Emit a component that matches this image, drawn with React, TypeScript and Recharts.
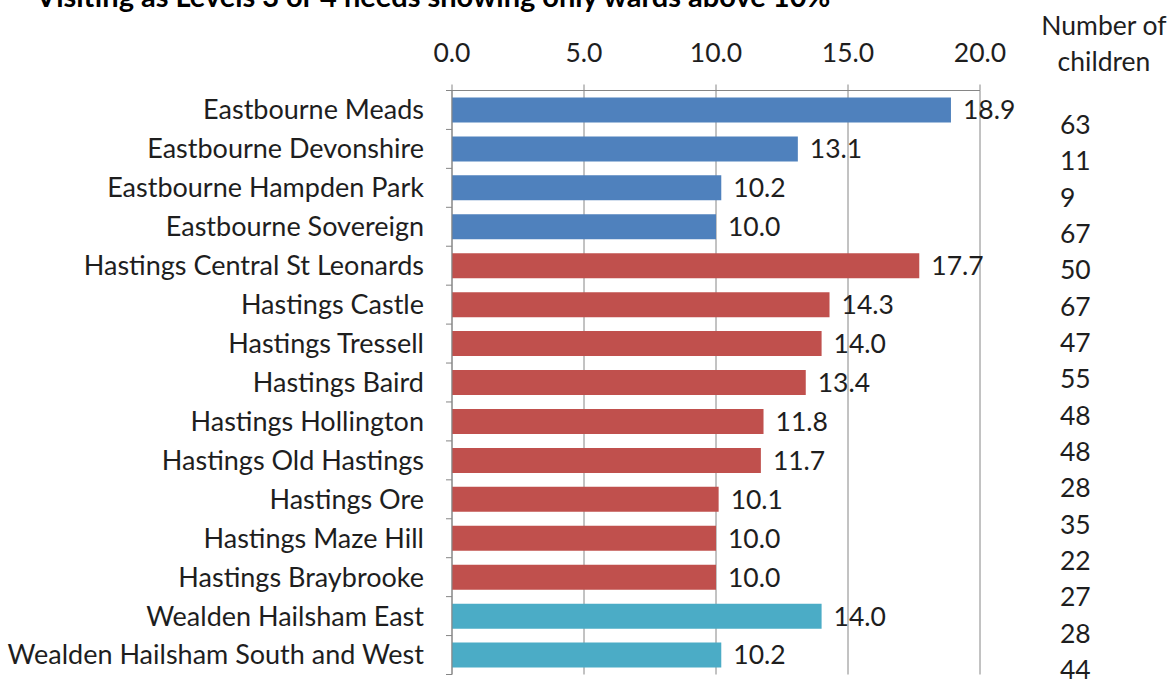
import { BarChart, Bar, XAxis, YAxis, CartesianGrid, Cell, LabelList } from "recharts";

// Wards visited at Level 3 or 4 (only wards above 10%)
const wards = [
  "Eastbourne Meads",
  "Eastbourne Devonshire",
  "Eastbourne Hampden Park",
  "Eastbourne Sovereign",
  "Hastings Central St Leonards",
  "Hastings Castle",
  "Hastings Tressell",
  "Hastings Baird",
  "Hastings Hollington",
  "Hastings Old Hastings",
  "Hastings Ore",
  "Hastings Maze Hill",
  "Hastings Braybrooke",
  "Wealden Hailsham East",
  "Wealden Hailsham South and West",
];
const percentages = [18.9, 13.1, 10.2, 10.0, 17.7, 14.3, 14.0, 13.4, 11.8, 11.7, 10.1, 10.0, 10.0, 14.0, 10.2];
const districts = [
  "Eastbourne", "Eastbourne", "Eastbourne", "Eastbourne",
  "Hastings", "Hastings", "Hastings", "Hastings", "Hastings", "Hastings", "Hastings", "Hastings", "Hastings",
  "Wealden", "Wealden",
];
const childCounts = [63, 11, 9, 67, 50, 67, 47, 55, 48, 48, 28, 35, 22, 27, 28, 44];
const xTicks = [0, 5, 10, 15, 20];

const districtColors: Record<string, string> = {
  Eastbourne: "#4F81BD",
  Hastings: "#C0504D",
  Wealden: "#4BACC6",
};

const FONT = "Lato, 'Open Sans', sans-serif";
const TEXT = "#1e1e1e";
const AXIS = "#868686";

const WIDTH = 1172;
const HEIGHT = 680;
const PLOT_TOP = 90.5;
const PLOT_BOTTOM = 674.5;
const BAND = (PLOT_BOTTOM - PLOT_TOP) / wards.length;

const data = wards.map((ward, i) => ({
  ward,
  pct: percentages[i],
  district: districts[i],
}));

// category label plus Excel-style tick marks at band edges
function WardTick(props: any) {
  const { x, y, payload, index } = props;
  return (
    <g>
      <text x={x - 28} y={y} dy="0.35em" textAnchor="end" fontFamily={FONT} fontSize={27} fill={TEXT}>
        {payload.value}
      </text>
      <line x1={x - 6} x2={x} y1={y - BAND / 2} y2={y - BAND / 2} stroke={AXIS} />
      {index === wards.length - 1 && (
        <line x1={x - 6} x2={x} y1={y + BAND / 2} y2={y + BAND / 2} stroke={AXIS} />
      )}
    </g>
  );
}

export default function App() {
  return (
    <div style={{ position: "absolute", left: 0, top: 0, width: WIDTH, height: HEIGHT, background: "#fff", overflow: "hidden" }}>
      <BarChart
        width={WIDTH}
        height={HEIGHT}
        data={data}
        layout="vertical"
        margin={{ top: PLOT_TOP - 40, right: 192, bottom: HEIGHT - PLOT_BOTTOM, left: 0 }}
      >
        <CartesianGrid horizontal={false} stroke={AXIS} />
        <XAxis
          type="number"
          orientation="top"
          height={40}
          domain={[0, 20]}
          ticks={xTicks}
          interval={0}
          tickFormatter={(v: number) => v.toFixed(1)}
          tick={{ fontFamily: FONT, fontSize: 26.5, fill: TEXT }}
          tickSize={6}
          tickMargin={23}
          stroke={AXIS}
        />
        <YAxis
          type="category"
          dataKey="ward"
          width={452}
          interval={0}
          tickSize={0}
          tickMargin={0}
          tickLine={false}
          tick={<WardTick />}
          stroke={AXIS}
        />
        <Bar dataKey="pct" barSize={25} isAnimationActive={false}>
          {data.map((d, i) => (
            <Cell key={i} fill={districtColors[d.district]} />
          ))}
          <LabelList
            dataKey="pct"
            position="right"
            offset={12}
            formatter={(v: number) => Number(v).toFixed(1)}
            style={{ fontFamily: FONT, fontSize: 26.5, fill: TEXT }}
          />
        </Bar>
      </BarChart>
      <svg width={WIDTH} height={HEIGHT} style={{ position: "absolute", left: 0, top: 0, pointerEvents: "none" }}>
        <text x={36} y={7} fontFamily={FONT} fontWeight="bold" fontSize={29} fill="#000">
          Visiting as Levels 3 or 4 needs showing only wards above 10%
        </text>
        <text x={1104} y={35} textAnchor="middle" fontFamily={FONT} fontSize={26.5} fill={TEXT}>
          Number of
        </text>
        <text x={1104} y={71} textAnchor="middle" fontFamily={FONT} fontSize={26.5} fill={TEXT}>
          children
        </text>
        {childCounts.map((c, i) => (
          <text key={i} x={1060} y={134} fontFamily={FONT} fontSize={26.5} fill={TEXT} dy={i * 36.33}>
            {c}
          </text>
        ))}
      </svg>
    </div>
  );
}
